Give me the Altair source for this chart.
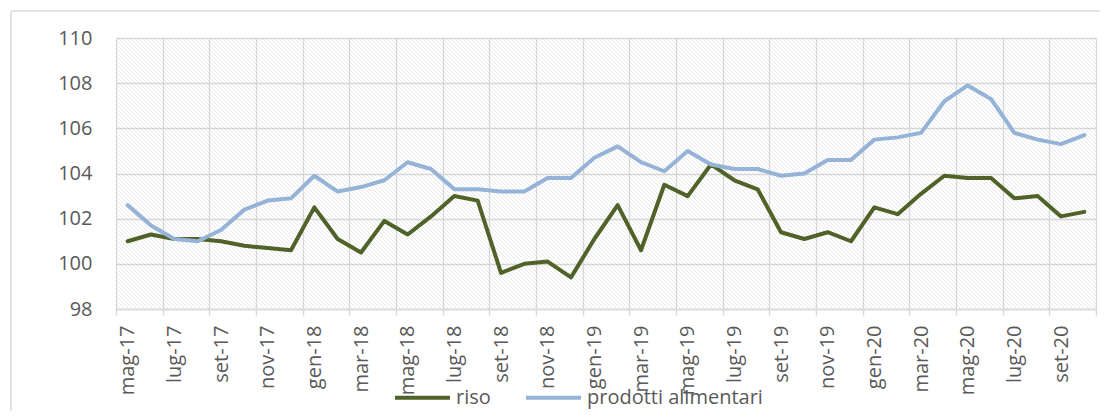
import json
import altair as alt
import pandas as pd

months = ["mag-17", "giu-17", "lug-17", "ago-17", "set-17", "ott-17", "nov-17", "dic-17",
          "gen-18", "feb-18", "mar-18", "apr-18", "mag-18", "giu-18", "lug-18", "ago-18",
          "set-18", "ott-18", "nov-18", "dic-18", "gen-19", "feb-19", "mar-19", "apr-19",
          "mag-19", "giu-19", "lug-19", "ago-19", "set-19", "ott-19", "nov-19", "dic-19",
          "gen-20", "feb-20", "mar-20", "apr-20", "mag-20", "giu-20", "lug-20", "ago-20",
          "set-20", "ott-20"]

riso = [101.0, 101.3, 101.1, 101.1, 101.0, 100.8, 100.7, 100.6, 102.5, 101.1, 100.5, 101.9,
        101.3, 102.1, 103.0, 102.8, 99.6, 100.0, 100.1, 99.4, 101.1, 102.6, 100.6, 103.5,
        103.0, 104.4, 103.7, 103.3, 101.4, 101.1, 101.4, 101.0, 102.5, 102.2, 103.1, 103.9,
        103.8, 103.8, 102.9, 103.0, 102.1, 102.3]

alimentari = [102.6, 101.7, 101.1, 101.0, 101.5, 102.4, 102.8, 102.9, 103.9, 103.2, 103.4, 103.7,
              104.5, 104.2, 103.3, 103.3, 103.2, 103.2, 103.8, 103.8, 104.7, 105.2, 104.5, 104.1,
              105.0, 104.4, 104.2, 104.2, 103.9, 104.0, 104.6, 104.6, 105.5, 105.6, 105.8, 107.2,
              107.9, 107.3, 105.8, 105.5, 105.3, 105.7]

series_names = ["riso", "prodotti alimentari"]
series_colors = ["#4F6228", "#95B3D7"]
y_ticks = [98, 100, 102, 104, 106, 108, 110]

W, H = 980, 271
N = len(months)
FONT = "Open Sans"
TXT = "#595959"
GRID = "#d9d9d9"

rows = []
for i, m in enumerate(months):
    rows.append({"idx": i + 0.5, "mese": m, "serie": series_names[0], "valore": riso[i]})
    rows.append({"idx": i + 0.5, "mese": m, "serie": series_names[1], "valore": alimentari[i]})
df = pd.DataFrame(rows)
one = pd.DataFrame({"k": [0]})

# hatch pattern via striped linear gradient (diagonal, top-left to bottom-right)
span = W + H
px = 1.0 / span
period = 4 * px
stripe_col = "rgba(170,170,170,0.38)"
clear_col = "rgba(170,170,170,0)"
stops = []
j = 0
while j * period < 1:
    a = j * period
    for off, col in ((a, clear_col), (a + 0.75 * px, stripe_col), (a + 1.5 * px, clear_col)):
        if off <= 1:
            stops.append(alt.GradientStop(offset=round(off, 6), color=col))
    j += 1
k = (W + H) / (W * W + H * H)
hatch = alt.LinearGradient(gradient="linear", stops=stops, x1=0, y1=1,
                           x2=round(k * W, 6), y2=round(1 - k * H, 6))

bg = alt.Chart(one).mark_rect(fill=hatch).encode(
    x=alt.value(0), x2=alt.value(W), y=alt.value(0), y2=alt.value(H))

frame_top = alt.Chart(one).mark_rule(color=GRID, strokeWidth=1.5).encode(
    x=alt.value(-105), x2=alt.value(W + 12), y=alt.value(-27))
frame_left = alt.Chart(one).mark_rule(color=GRID, strokeWidth=1.5).encode(
    x=alt.value(-105), y=alt.value(-27), y2=alt.value(H + 110))

label_expr = json.dumps(months) + "[datum.value] || ''"

x_enc = alt.X("idx:Q", scale=alt.Scale(domain=[0, N], nice=False, zero=False),
              axis=alt.Axis(values=list(range(0, N + 1, 2)), labelExpr=label_expr, title=None,
                            labelAngle=270, labelAlign="right", labelBaseline="middle",
                            labelOffset=W / N / 2, labelPadding=10, labelFlush=False,
                            labelOverlap=False, labelFont=FONT, labelFontSize=20,
                            labelColor=TXT, tickSize=6, tickColor=GRID, tickWidth=1.5,
                            domainColor=GRID, domainWidth=1.5, grid=True, gridColor=GRID,
                            gridWidth=1.3))
y_enc = alt.Y("valore:Q", scale=alt.Scale(domain=[98, 110], nice=False, zero=False),
              axis=alt.Axis(values=y_ticks, title=None, ticks=False, domain=False,
                            labelPadding=24, labelFont=FONT, labelFontSize=20, labelColor=TXT,
                            grid=True, gridColor=GRID, gridWidth=1.3))
color_enc = alt.Color("serie:N", scale=alt.Scale(domain=series_names, range=series_colors),
                      legend=alt.Legend(title=None, orient="none", legendX=277, legendY=330,
                                        direction="horizontal", symbolType="stroke",
                                        symbolSize=3025, symbolStrokeWidth=4, labelFont=FONT,
                                        labelFontSize=20, labelColor=TXT, labelOffset=4,
                                        labelLimit=400, columnPadding=27, padding=0))

line_riso = alt.Chart(df).transform_filter(alt.datum.serie == "riso").mark_line(
    strokeWidth=4, strokeJoin="round", strokeCap="round").encode(x=x_enc, y=y_enc, color=color_enc)
line_alim = alt.Chart(df).transform_filter(alt.datum.serie == "prodotti alimentari").mark_line(
    strokeWidth=4, strokeJoin="round", strokeCap="round").encode(x=x_enc, y=y_enc, color=color_enc)

chart = alt.layer(bg, frame_top, frame_left, line_riso, line_alim).properties(
    width=W, height=H, autosize=alt.AutoSizeParams(type="none"),
    padding={"left": 108, "top": 30, "right": 4, "bottom": 102},
    background="white",
).configure_view(stroke="transparent")

chart.save("out.html", embed_options={"renderer": "svg", "actions": False})
